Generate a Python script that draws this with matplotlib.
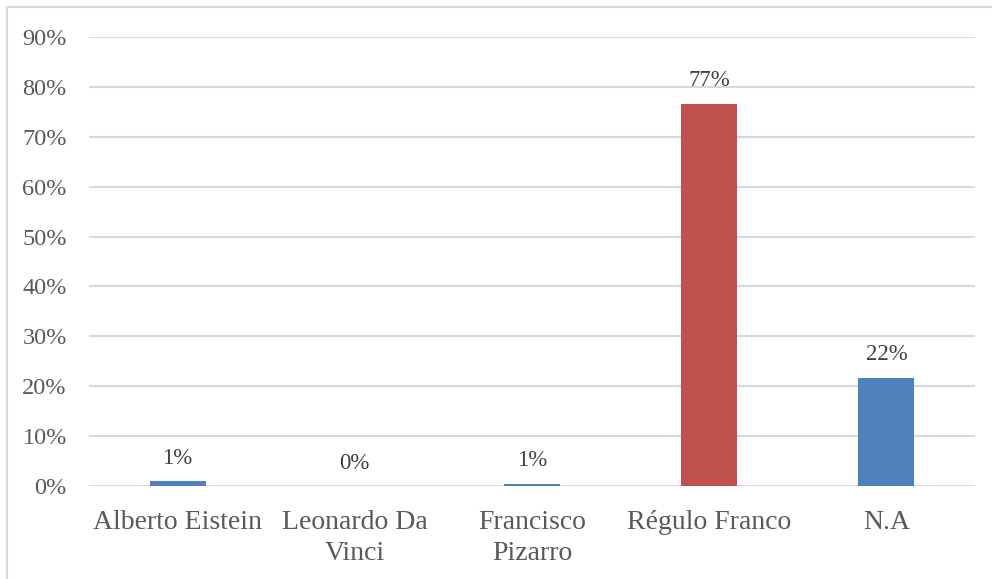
import matplotlib.pyplot as plt
from matplotlib.patches import Rectangle
from matplotlib.ticker import PercentFormatter

# data
categories = ["Alberto Eistein", "Leonardo Da\nVinci", "Francisco\nPizarro",
              "Régulo Franco", "N.A"]
values = [1.0, 0.0, 0.5, 76.6, 21.7]
labels = ["1%", "0%", "1%", "77%", "22%"]
colors = ["#4f81bd", "#4f81bd", "#4f81bd", "#c0504d", "#4f81bd"]

plt.rcParams["font.family"] = ["Liberation Serif", "DejaVu Serif"]

fig = plt.figure(figsize=(9.92, 5.79), dpi=100)
ax = fig.add_axes([89 / 992, 1 - 486 / 579, (975 - 89) / 992, (486 - 37) / 579])

x = range(len(categories))
ax.bar(x, values, width=0.316, color=colors, zorder=3)

for xi, v, lab in zip(x, values, labels):
    ax.text(xi, v + 2.5, lab, ha="center", va="bottom",
            fontsize=16.5, color="#404040")

ax.set_xlim(-0.5, len(categories) - 0.5)
ax.set_ylim(0, 90)
ax.set_yticks(range(0, 91, 10))
ax.yaxis.set_major_formatter(PercentFormatter(decimals=0))
ax.set_xticks(list(x))
ax.set_xticklabels(categories, linespacing=1.35)

ax.grid(axis="y", color="#d9d9d9", linewidth=1.5, zorder=0)
for s in ax.spines.values():
    s.set_visible(False)
ax.tick_params(axis="both", length=0, colors="#595959")
ax.tick_params(axis="y", pad=16, labelsize=17.5)
ax.tick_params(axis="x", pad=17, labelsize=20)

# light frame around the chart (top and left visible)
fig.patches.append(Rectangle((7 / 992, -0.05), 1.1, 1 - 7 / 579 + 0.05,
                             transform=fig.transFigure, fill=False,
                             edgecolor="#d9d9d9", linewidth=1.5))

fig.savefig("out.png", dpi=100)
